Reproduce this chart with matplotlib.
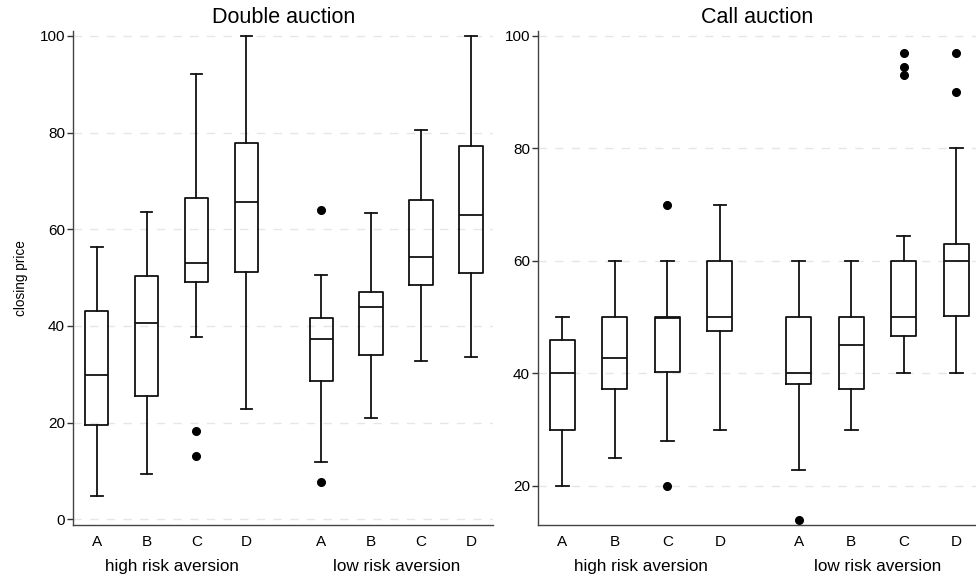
import matplotlib
matplotlib.use('Agg')
import matplotlib.pyplot as plt
from matplotlib import transforms

plt.rcParams['font.family'] = ['Liberation Sans', 'DejaVu Sans']

treatments = ['A', 'B', 'C', 'D', 'A', 'B', 'C', 'D']
groups = ['high risk aversion', 'low risk aversion']
positions = [1, 2, 3, 4, 5.5, 6.5, 7.5, 8.5]

# Double auction: lower whisker, Q1, median, Q3, upper whisker
da_low = [4.8, 9.4, 37.6, 22.8, 11.9, 21.0, 32.8, 33.6]
da_q1 = [19.5, 25.5, 49.1, 51.1, 28.5, 33.9, 48.4, 50.9]
da_med = [29.9, 40.6, 52.9, 65.6, 37.3, 43.9, 54.3, 62.9]
da_q3 = [43.0, 50.4, 66.5, 77.9, 41.7, 46.9, 66.0, 77.3]
da_high = [56.4, 63.6, 92.1, 100, 50.6, 63.3, 80.5, 100]
da_out = [[], [], [18.3, 13.1], [], [64.0, 7.7], [], [], []]

# Call auction
ca_low = [20, 25, 28, 30, 22.9, 30, 40, 40]
ca_q1 = [30, 37.2, 40.2, 47.6, 38.1, 37.2, 46.6, 50.2]
ca_med = [40, 42.8, 49.9, 50, 40, 45, 50, 60]
ca_q3 = [45.9, 50, 50, 60, 50, 50, 60, 63.1]
ca_high = [50, 60, 60, 70, 60, 60, 64.5, 80]
ca_out = [[], [], [70, 20], [], [14.0], [], [97, 94.5, 93], [97, 90]]


def make_stats(low, q1, med, q3, high, out):
    return [dict(whislo=a, q1=b, med=c, q3=d, whishi=e, fliers=f)
            for a, b, c, d, e, f in zip(low, q1, med, q3, high, out)]


fig = plt.figure(figsize=(9.76, 5.81), dpi=100)
ax1 = fig.add_axes([0.0751, 0.0964, 0.4303, 0.8494])
ax2 = fig.add_axes([0.5515, 0.0964, 0.4485, 0.8494])

lc = '#111111'
lw = 1.3
panels = [
    (ax1, make_stats(da_low, da_q1, da_med, da_q3, da_high, da_out),
     'Double auction', (-1.2, 100.9), (0.532, 8.946), 0.47, [0, 20, 40, 60, 80, 100]),
    (ax2, make_stats(ca_low, ca_q1, ca_med, ca_q3, ca_high, ca_out),
     'Call auction', (13.06, 100.8), (0.543, 8.875), 0.48, [20, 40, 60, 80, 100]),
]

for ax, stats, title, ylim, xlim, bw, yt in panels:
    ax.bxp(stats, positions=positions, widths=bw, showfliers=True,
           boxprops=dict(color=lc, linewidth=lw),
           whiskerprops=dict(color=lc, linewidth=lw),
           capprops=dict(color=lc, linewidth=lw),
           medianprops=dict(color=lc, linewidth=lw),
           flierprops=dict(marker='o', markerfacecolor='black',
                           markeredgecolor='black', markersize=5.5))
    ax.set_ylim(*ylim)
    ax.set_xlim(*xlim)
    ax.set_yticks(yt)
    ax.set_xticks(positions)
    ax.set_xticklabels(treatments)
    ax.tick_params(axis='x', length=0, pad=7, labelsize=11)
    ax.tick_params(axis='y', length=4, width=1, pad=2, labelsize=11, color='#333333')
    for s in ['top', 'right']:
        ax.spines[s].set_visible(False)
    for s in ['left', 'bottom']:
        ax.spines[s].set_color('#444444')
        ax.spines[s].set_linewidth(1)
    ax.yaxis.grid(True, color='#e6e6e6', linestyle=(0, (6, 6)), linewidth=1)
    ax.set_axisbelow(True)
    ax.set_title(title, fontsize=15.5, pad=6)
    trans = transforms.blended_transform_factory(ax.transData, ax.transAxes)
    ax.text(2.5, -0.084, groups[0], transform=trans, ha='center', va='center', fontsize=12.3)
    ax.text(7.0, -0.084, groups[1], transform=trans, ha='center', va='center', fontsize=12.3)

ax1.set_ylabel('closing price', fontsize=9.8, labelpad=8)

fig.savefig('out.png', dpi=100)
